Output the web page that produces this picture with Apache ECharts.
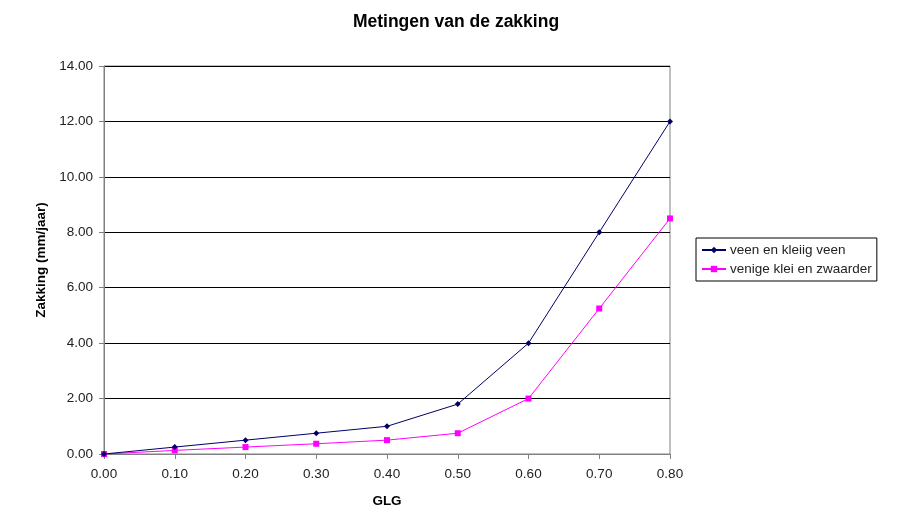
<!DOCTYPE html>
<html>
<head>
<meta charset="utf-8">
<script src="https://cdn.jsdelivr.net/npm/echarts@6/dist/echarts.min.js"></script>
<style>
  html, body { margin: 0; padding: 0; background: #fff; }
  #chart { width: 906px; height: 514px; }
</style>
</head>
<body>
<div id="chart"></div>
<script>
const glg = [0, 0.1, 0.2, 0.3, 0.4, 0.5, 0.6, 0.7, 0.8];
const veen = [0, 0.25, 0.5, 0.75, 1.0, 1.8, 4.0, 8.0, 12.0];
const klei = [0, 0.13, 0.25, 0.37, 0.5, 0.75, 2.0, 5.25, 8.5];
const seriesNames = ["veen en kleiig veen", "venige klei en zwaarder"];

const font = "'Liberation Sans', Arial, sans-serif";
const chart = echarts.init(document.getElementById("chart"));

chart.setOption({
  animation: false,
  textStyle: { fontFamily: font },
  title: {
    text: "Metingen van de zakking",
    left: 451,
    textAlign: "center",
    top: 8,
    textStyle: { fontSize: 17.5, fontWeight: "bold", color: "#000", fontFamily: font }
  },
  grid: {
    left: 104, right: 236, top: 66, bottom: 60,
    outerBoundsMode: "none",
    show: true, borderColor: "#808080", borderWidth: 1, backgroundColor: "transparent"
  },
  legend: {
    orient: "vertical",
    left: 696,
    top: 238,
    padding: [5, 5, 5, 5],
    itemGap: 5,
    itemWidth: 24,
    itemHeight: 8,
    borderColor: "#000",
    borderWidth: 1,
    textStyle: { fontSize: 13.5, color: "#222", fontFamily: font, padding: [0, 0, 0, -1] },
    data: seriesNames
  },
  xAxis: {
    type: "value",
    min: 0,
    max: 0.8,
    interval: 0.1,
    name: "GLG",
    nameLocation: "middle",
    nameGap: 40,
    nameTextStyle: { fontWeight: "bold", fontSize: 13.5, color: "#000" },
    axisLine: { lineStyle: { color: "#808080" } },
    axisTick: { show: true, length: 5, lineStyle: { color: "#808080" } },
    axisLabel: { color: "#222", fontSize: 13.5, margin: 13, formatter: (v) => v.toFixed(2) },
    splitLine: { show: false }
  },
  yAxis: {
    type: "value",
    min: 0,
    max: 14,
    interval: 2,
    name: "Zakking (mm/jaar)",
    nameLocation: "middle",
    nameGap: 56,
    nameTextStyle: { fontWeight: "bold", fontSize: 13.5, color: "#000" },
    axisLine: { show: true, lineStyle: { color: "#808080" } },
    axisTick: { show: true, length: 5, lineStyle: { color: "#808080" } },
    axisLabel: { color: "#222", fontSize: 13.5, margin: 11, formatter: (v) => v.toFixed(2) },
    splitLine: { show: true, lineStyle: { color: "#000", width: 1 } }
  },
  series: [
    {
      name: seriesNames[0],
      type: "line",
      data: glg.map((x, i) => [x, veen[i]]),
      symbol: "diamond",
      symbolSize: 6,
      lineStyle: { width: 1, color: "#000066" },
      itemStyle: { color: "#000066" },
      z: 3
    },
    {
      name: seriesNames[1],
      type: "line",
      data: glg.map((x, i) => [x, klei[i]]),
      symbol: "rect",
      symbolSize: 6,
      lineStyle: { width: 1, color: "#ff00ff" },
      itemStyle: { color: "#ff00ff" },
      z: 2
    }
  ]
});
</script>
</body>
</html>
